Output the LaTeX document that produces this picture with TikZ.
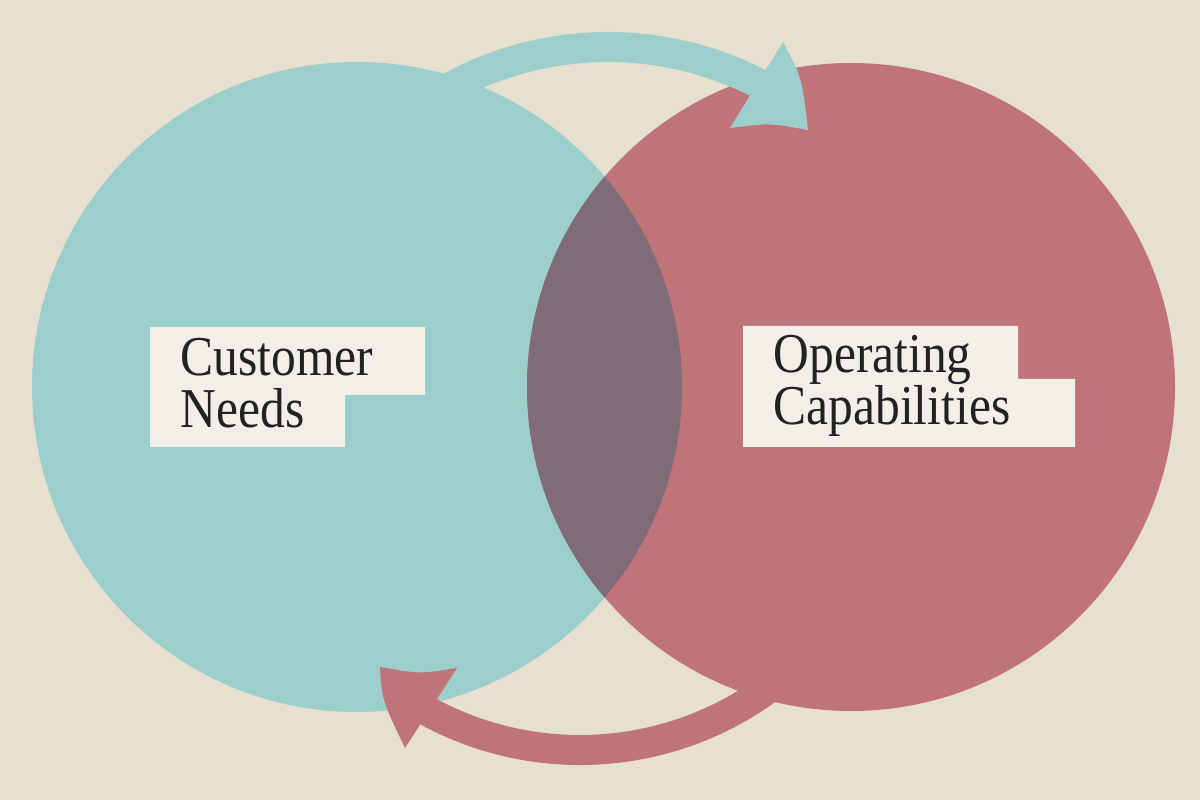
\documentclass[tikz,border=0pt]{standalone}
\usepackage{fontspec}
\newfontfamily\labelfont[FakeStretch=0.88]{Liberation Serif}
\usetikzlibrary{positioning}
\definecolor{paper}{HTML}{E7DFCF}
\definecolor{needs}{HTML}{9CCFCB}
\definecolor{caps}{HTML}{BF7479}
\definecolor{overlap}{HTML}{7F6C77}
\definecolor{card}{HTML}{F2EFE8}
\definecolor{ink}{HTML}{222222}

\begin{document}
\begin{tikzpicture}[x=0.01cm, y=0.01cm,
  band/.style={line width=0.3cm},
  labeltext/.style={font=\labelfont\fontsize{16}{14.8}\selectfont, text=ink, align=left, inner sep=0pt, anchor=base west}]
\fill[paper] (0,0) rectangle (1200,800);
% the two circles and their overlap
\fill[needs] (357,413) circle[radius=325];
\fill[caps] (851,413) circle[radius=324];
\begin{scope}
\clip (357,413) circle[radius=325];
\fill[overlap] (851,413) circle[radius=324];
\end{scope}
% top arrow, needs -> capabilities
\draw[needs, band] (608,423) ++(125:330) arc[start angle=125, end angle=61, radius=330];
\fill[needs] (783,758) .. controls (802,722) .. (808,670) .. controls (770,677) .. (730,672) -- cycle;
% bottom arrow, capabilities -> needs
\draw[caps, band] (580,369) ++(-45:319) arc[start angle=-45, end angle=-119, radius=319];
\fill[caps] (457,132) .. controls (420,126) .. (380,133) .. controls (382,100) .. (405,52) -- cycle;
% labels (anchored on the last line)
\fill[card] (150,473) -- (425,473) -- (425,405) -- (345,405) -- (345,353) -- (150,353) -- cycle;
\node[labeltext] (needslabel) at (180,372) {Customer\\Needs};
\fill[card] (743,474) -- (1018,474) -- (1018,421) -- (1075,421) -- (1075,353) -- (743,353) -- cycle;
\node[labeltext] (capslabel) at (773,375) {Operating\\Capabilities};
\end{tikzpicture}
\end{document}
